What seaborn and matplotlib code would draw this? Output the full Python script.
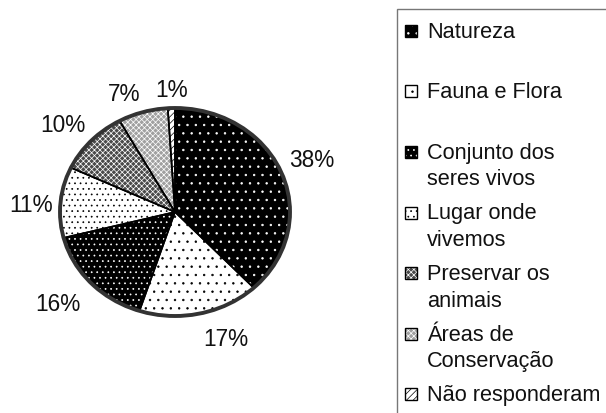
import numpy as np
import matplotlib
matplotlib.use("Agg")
import matplotlib.pyplot as plt
import seaborn as sns
from matplotlib.patches import Rectangle, Circle

# data
categories = ["Natureza", "Fauna e Flora", "Conjunto dos\nseres vivos",
              "Lugar onde\nvivemos", "Preservar os\nanimais",
              "Áreas de\nConservação", "Não responderam"]
values = [38, 17, 16, 11, 10, 7, 1]

# pattern styling for each slice (black & white print look)
fills = ["black", "white", "black", "white", "#4a4a4a", "#a0a0a0", "white"]
hatch_colors = ["white", "black", "white", "black", "white", "white", "black"]
hatches = ["..", "..", "...", "...", "xxxxxx", "xxxxxx", "/////"]

sns.set_theme(style="white")
plt.rcParams['font.family'] = ['Liberation Sans', 'DejaVu Sans']
plt.rcParams['hatch.linewidth'] = 0.5

W, H = 606, 414
fig = plt.figure(figsize=(W / 100, H / 100), dpi=100, facecolor='white')

# pie axes: slightly squashed ellipse, as in the original
cx, cy, rx, ry = 175, 213, 115, 104
ax = fig.add_axes([(cx - 1.5 * rx) / W, (H - cy - 1.5 * ry) / H, 3 * rx / W, 3 * ry / H])

wedges, _ = ax.pie(values, startangle=90, counterclock=False,
                   wedgeprops=dict(linewidth=0))
for w, fc, hc, h in zip(wedges, fills, hatch_colors, hatches):
    w.set_facecolor(fc)
    w.set_edgecolor(hc)
    w.set_hatch(h)

# thin black dividers between slices
ax.pie(values, startangle=90, counterclock=False,
       wedgeprops=dict(fill=False, edgecolor='black', linewidth=1.2))
# thick outer border
ax.add_patch(Circle(wedges[0].center, wedges[0].r, fill=False,
                    edgecolor='#333333', linewidth=2.8))

# percentage labels just outside the edge, aligned away from the pie
total = sum(values)
for w, v in zip(wedges, values):
    ang = np.deg2rad((w.theta1 + w.theta2) / 2)
    c, s = np.cos(ang), np.sin(ang)
    ha = 'left' if c > 0.2 else ('right' if c < -0.2 else 'center')
    if s > 0.3:
        va, r = 'bottom', 1.07
    elif s < -0.3:
        va, r = 'top', 1.13
    else:
        va, r = 'center_baseline', 1.07
    ax.text(r * c, r * s, f"{100 * v / total:.0f}%", ha=ha, va=va,
            fontsize=16.3, color='#111111')

ax.set_aspect('auto')
ax.set_xlim(-1.5, 1.5)
ax.set_ylim(-1.5, 1.5)
ax.axis('off')

# legend box (runs off the right and bottom edges)
lx, ly = 397, 10
fig.patches.append(Rectangle((lx / W, -0.1), 1, (H - ly) / H + 0.1,
                             transform=fig.transFigure, fill=False,
                             edgecolor='#777777', linewidth=1.0))

step = 60.6
first_base = 37.7
line_h = 26.5
for i, (lab, fc, hc, h) in enumerate(zip(categories, fills, hatch_colors, hatches)):
    base = first_base + i * step
    box = ((lx + 8) / W, (H - base) / H)
    fig.patches.append(Rectangle(box, 12 / W, 12 / H, transform=fig.transFigure,
                                 facecolor=fc, edgecolor=hc, hatch=h, linewidth=0))
    fig.patches.append(Rectangle(box, 12 / W, 12 / H, transform=fig.transFigure,
                                 fill=False, edgecolor='black', linewidth=1.0))
    for j, line in enumerate(lab.split("\n")):
        fig.text((lx + 30) / W, (H - base - j * line_h) / H, line, fontsize=15.7,
                 color='#111111', ha='left', va='baseline')

fig.savefig("out.png", dpi=100, facecolor='white')
